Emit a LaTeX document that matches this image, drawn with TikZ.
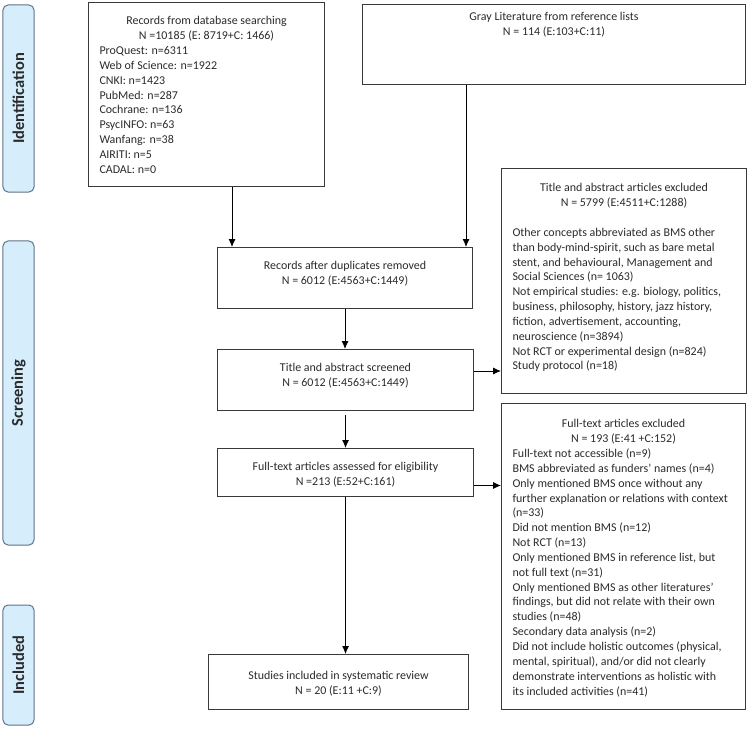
\documentclass[tikz,border=0pt]{standalone}
\usepackage{fontspec}
\setmainfont{Carlito}
\usetikzlibrary{arrows.meta,positioning,calc}
\definecolor{tagfill}{HTML}{D6EEFC}
\definecolor{tagline}{HTML}{5F7487}
\definecolor{boxline}{HTML}{3A3A3A}
\definecolor{txtgray}{HTML}{2B2B2B}

\begin{document}
\begin{tikzpicture}[
    x=1bp, y=-1bp,
    >={Latex[length=8bp,width=7bp]},
    stage/.style = {draw=tagline, fill=tagfill, rounded corners=5bp,
                    line width=1bp, inner sep=0pt, rotate=90,
                    minimum height=31bp, text=txtgray,
                    font=\bfseries\fontsize{16.5}{18}\selectfont},
    flow/.style  = {draw=boxline, line width=1bp, anchor=north west,
                    inner xsep=11bp, inner ysep=0pt, text=txtgray,
                    font=\fontsize{12}{14.9}\selectfont},
    sig/.style   = {draw=black, line width=0.9bp, ->},
  ]
  \useasboundingbox (0,0) rectangle (750,729);

  % ===================================================================
  % Stage tags on the left
  % ===================================================================
  \node[stage, minimum width=187bp] (tagid)  at (18.5,98.5) {Identification};
  \node[stage, minimum width=304bp] (tagscr) at (18.5,393)  {Screening};
  \node[stage, minimum width=120bp] (taginc) at (18.5,665)  {Included};

  % ===================================================================
  % Identification: sources
  % ===================================================================
  \node[flow] (db) at (88,2)
    {\parbox[t][184bp][t]{214bp}{\vspace*{14bp}\centering
     Records from database searching\\
     N =10185 (E: 8719+C: 1466)\par\raggedright
     ProQuest: n=6311\\
     Web of Science: n=1922\\
     CNKI: n=1423\\
     PubMed: n=287\\
     Cochrane: n=136\\
     PsycINFO: n=63\\
     Wanfang: n=38\\
     AIRITI: n=5\\
     CADAL: n=0}};

  \node[flow] (gray) at (362,4)
    {\parbox[t][80bp][t]{361bp}{\vspace*{8bp}\centering
     Gray Literature from reference lists\\
     N = 114 (E:103+C:11)}};

  % ===================================================================
  % Main column
  % ===================================================================
  \node[flow] (dup) at (217,247)
    {\parbox[t][61bp][t]{233bp}{\vspace*{14bp}\centering
     Records after duplicates removed\\
     N = 6012 (E:4563+C:1449)}};

  \node[flow] (scr) at (217,349)
    {\parbox[t][61bp][t]{234bp}{\vspace*{14bp}\centering
     Title and abstract screened\\
     N = 6012 (E:4563+C:1449)}};

  \node[flow] (ft) at (217,448)
    {\parbox[t][48bp][t]{234bp}{\vspace*{14bp}\centering
     Full-text articles assessed for eligibility\\
     N =213 (E:52+C:161)}};

  \node[flow] (inc) at (208,654)
    {\parbox[t][55bp][t]{238bp}{\vspace*{17bp}\centering
     Studies included in systematic review\\
     N = 20 (E:11 +C:9)}};

  % ===================================================================
  % Exclusion boxes on the right
  % ===================================================================
  \node[flow] (ex1) at (501,168)
    {\parbox[t][225bp][t]{223bp}{\vspace*{15bp}\centering
     Title and abstract articles excluded\\
     N = 5799 (E:4511+C:1288)\par\vspace{14.9bp}\raggedright
     Other concepts abbreviated as BMS other\\
     than body-mind-spirit, such as bare metal\\
     stent, and behavioural, Management and\\
     Social Sciences (n= 1063)\\
     Not empirical studies: e.g. biology, politics,\\
     business, philosophy, history, jazz history,\\
     fiction, advertisement, accounting,\\
     neuroscience (n=3894)\\
     Not RCT or experimental design (n=824)\\
     Study protocol (n=18)}};

  \node[flow] (ex2) at (501,403)
    {\parbox[t][306bp][t]{222bp}{\vspace*{16bp}\centering
     Full-text articles excluded\\
     N = 193 (E:41 +C:152)\par\raggedright
     Full-text not accessible (n=9)\\
     BMS abbreviated as funders’ names (n=4)\\
     Only mentioned BMS once without any\\
     further explanation or relations with context\\
     (n=33)\\
     Did not mention BMS (n=12)\\
     Not RCT (n=13)\\
     Only mentioned BMS in reference list, but\\
     not full text (n=31)\\
     Only mentioned BMS as other literatures’\\
     findings, but did not relate with their own\\
     studies (n=48)\\
     Secondary data analysis (n=2)\\
     Did not include holistic outcomes (physical,\\
     mental, spiritual), and/or did not clearly\\
     demonstrate interventions as holistic with\\
     its included activities (n=41)}};

  % ----- arrows -----
  \coordinate (dupin1) at ($(dup.north west)+(15,0)$);
  \coordinate (dupin2) at ($(dup.north east)+(-7,0)$);
  \draw[sig] (dupin1 |- db.south) -- (dupin1);
  \draw[sig] (dupin2 |- gray.south) -- (dupin2);
  \draw[sig] (dup.south) -- (dup.south |- scr.north);
  \draw[sig] ([yshift=-4bp]scr.south) -- (scr.south |- ft.north);
  \draw[sig] (ft.south) -- (ft.south |- inc.north);
  \draw[sig] ([yshift=9bp]scr.east) -- ([yshift=9bp]scr.east -| ex1.west);
  \draw[sig] ([yshift=-13bp]ft.east) -- ([yshift=-13bp]ft.east -| ex2.west);

\end{tikzpicture}
\end{document}
